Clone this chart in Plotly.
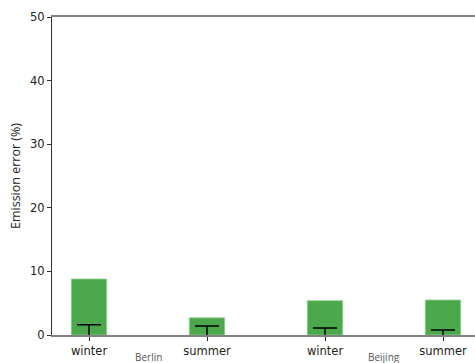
import plotly.graph_objects as go

seasons = ["winter", "summer", "winter", "summer"]
cities = ["Berlin", "Beijing"]
emission_error = [8.8, 2.7, 5.4, 5.5]
error_upper = [1.6, 1.4, 1.1, 0.8]

xpos = list(range(len(seasons)))

fig = go.Figure()
fig.add_trace(go.Bar(
    x=xpos, y=emission_error, width=0.3,
    marker=dict(color="rgb(76,168,76)", line=dict(color="rgba(140,210,140,0.8)", width=1)),
    showlegend=False,
))
fig.add_trace(go.Scatter(
    x=xpos, y=[0] * len(xpos), mode="markers",
    marker=dict(size=0.1, color="rgba(0,0,0,0)"),
    error_y=dict(type="data", array=error_upper, symmetric=True, color="black", thickness=1.5, width=12),
    cliponaxis=True, showlegend=False,
))

for i, c in enumerate(cities):
    fig.add_annotation(x=2 * i + 0.5, y=0, xref="x", yref="paper", yshift=-22,
                       text=c, showarrow=False, yanchor="middle",
                       font=dict(family="Open Sans", size=10, color="#555555"))

fig.update_layout(
    width=475, height=363,
    margin=dict(l=52, r=0, t=17, b=28),
    plot_bgcolor="white", paper_bgcolor="white",
    font=dict(family="DejaVu Sans", size=11.5, color="#222222"),
    xaxis=dict(
        range=[-37 / 118, 386 / 118],
        tickmode="array", tickvals=xpos, ticktext=seasons,
        showline=True, linecolor="#808080", linewidth=1.5, mirror=True,
        ticks="outside", ticklen=4, tickcolor="#222222",
        showgrid=False, zeroline=False,
    ),
    yaxis=dict(
        range=[0, 50], tickvals=[0, 10, 20, 30, 40, 50],
        showline=True, linecolor="#333333", linewidth=1,
        ticks="outside", ticklen=4, tickcolor="#333333",
        showgrid=False, zeroline=False,
        title=dict(text="Emission error (%)", font=dict(family="Open Sans", size=12.5), standoff=6),
    ),
)

fig.write_html("out.html")
